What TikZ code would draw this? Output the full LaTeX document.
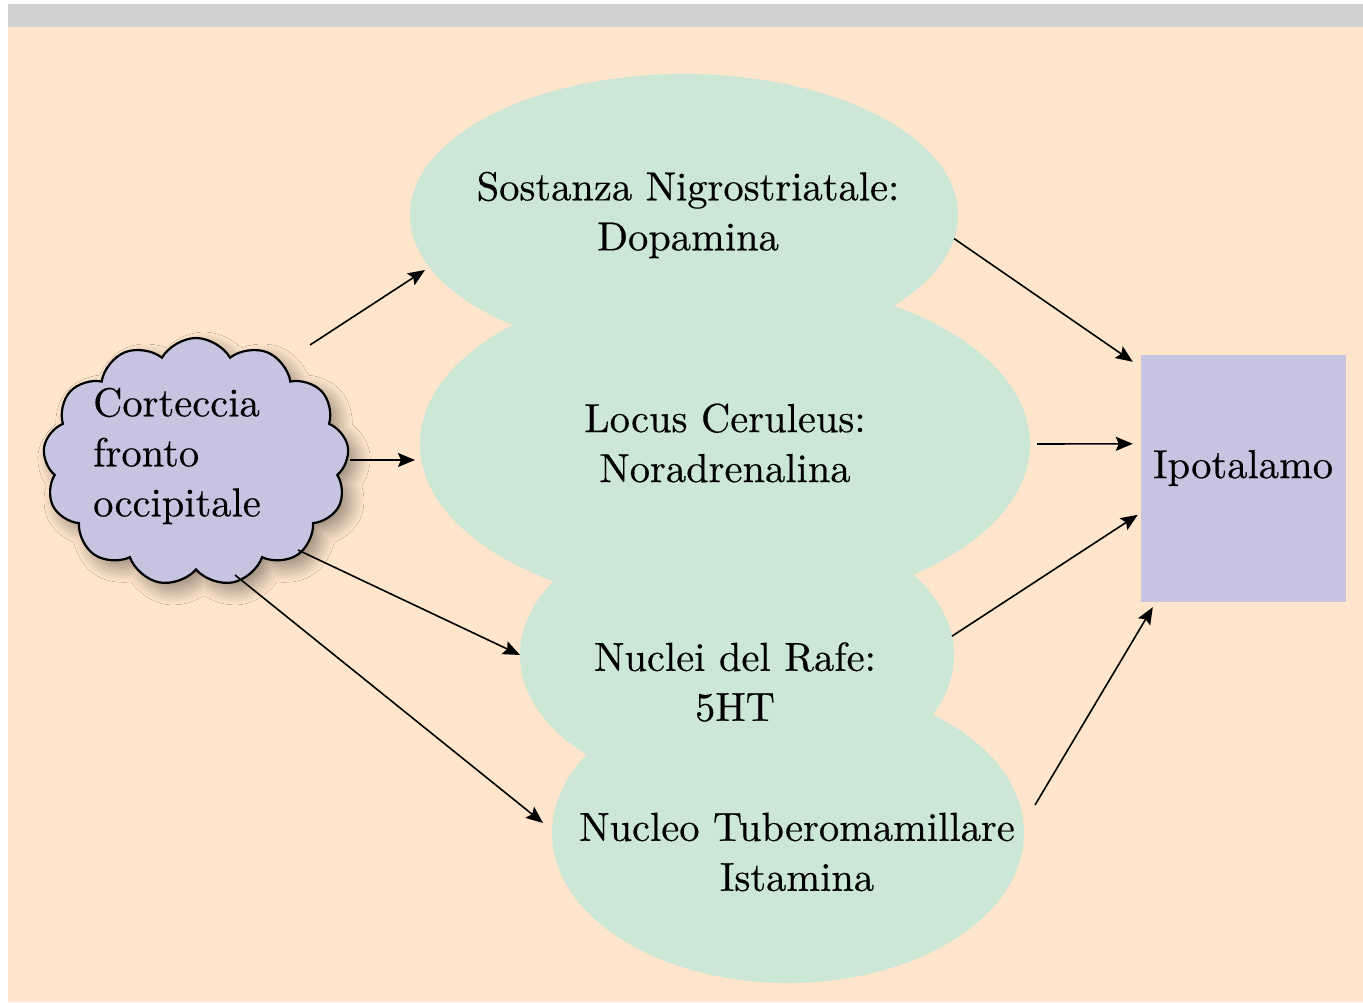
\documentclass[tikz,border=0pt]{standalone}
\usepackage{fontspec}
\setmainfont{lmroman10-regular}[Extension=.otf, FakeBold=0.4]
\usetikzlibrary{shapes.geometric,shapes.symbols,shadows.blur,arrows.meta,calc}
\definecolor{peach}{RGB}{254,229,204}
\definecolor{mint}{RGB}{204,231,214}
\definecolor{lav}{RGB}{199,196,226}
\definecolor{band}{RGB}{209,210,212}
\begin{document}
\begin{tikzpicture}[x=1pt,y=-1pt,
  blob/.style={ellipse, fill=mint, inner sep=0pt, outer sep=0pt},
  lbl/.style={font=\fontsize{40.5}{50}\selectfont, align=center, inner sep=0pt, text=black},
  arr/.style={line width=1.6pt, -{Stealth[length=17pt,width=14pt,inset=3pt]}}]
\useasboundingbox (0,0) rectangle (1363,1002);
\fill[white] (0,0) rectangle (1363,1002);
\fill[band] (8,4) rectangle (1363,27);
\fill[peach] (8,27) rectangle (1363,1002);
% ellipses
\node[blob, minimum width=548pt, minimum height=282pt] (e1) at (684,215) {};
\node[blob, minimum width=610pt, minimum height=332pt] (e2) at (725,444) {};
\node[blob, minimum width=434pt, minimum height=276pt] (e3) at (737,655) {};
\node[blob, minimum width=472pt, minimum height=300pt] (e4) at (788,833) {};
\node[lbl] (t1) at (688,215) {Sostanza Nigrostriatale:\\Dopamina};
\node[lbl] (t2) at (725,443) {Locus Ceruleus:\\Noradrenalina};
\node[lbl] (t3) at (735,682) {Nuclei del Rafe:\\5HT};
\node[lbl] (t4) at (797,852) {Nucleo Tuberomamillare\\Istamina};
% cloud
\node[cloud, cloud puffs=13, cloud puff arc=120, aspect=1.25, draw=black, line width=2.2pt, fill=lav,
      minimum width=306pt, minimum height=248pt,
      blur shadow={shadow xshift=8pt, shadow yshift=-8pt, shadow blur radius=14pt, shadow blur steps=16, shadow opacity=40}] (cl) at (196,462) {};
\node[lbl, align=left, anchor=west] (ct) at (93,456) {Corteccia\\fronto\\occipitale};
% hypothalamus
\node[fill=lav, inner sep=0pt, minimum width=205pt, minimum height=247pt] (ipo) at (1243.5,478.5) {};
\node[lbl] (ipot) at (1243,468) {Ipotalamo};
% arrows
\draw[arr] ($(cl.center)+(114,-117)$) -- ($(e1.west)+(15,55)$);
\draw[arr] ($(cl.center)+(154,-2)$) -- ($(e2.west)+(-5,16)$);
\draw[arr] ($(cl.center)+(102,88)$) -- (e3.west);
\draw[arr] ($(cl.center)+(39,113)$) -- ($(e4.west)+(-9,-10)$);
\draw[arr] (e1.-5) -- ($(ipo.north west)+(-8,7)$);
\draw[arr] ($(e2.east)+(7,0)$) -- ($(ipo.north west)+(-8,89)$);
\draw[arr] (e3.5) -- ($(ipo.north west)+(-3,160)$);
\draw[arr] ($(e4.east)+(11,-28)$) -- ($(ipo.south west)+(12,5)$);
\end{tikzpicture}
\end{document}
